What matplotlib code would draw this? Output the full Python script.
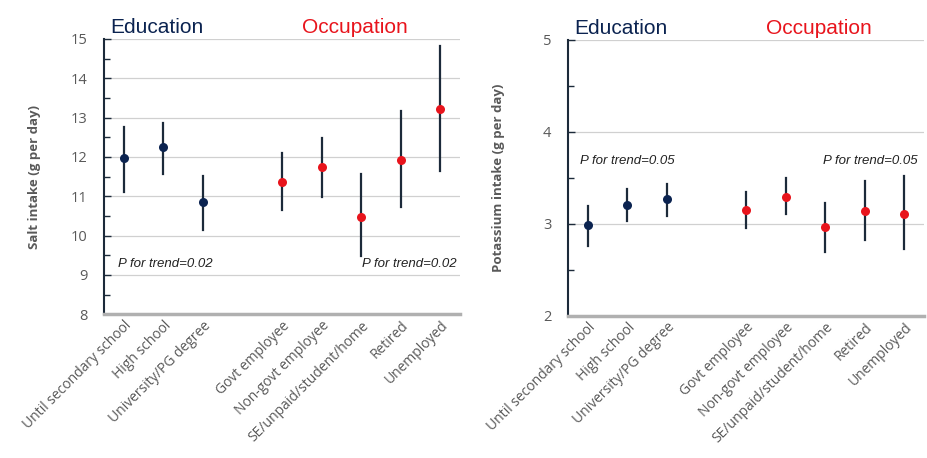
import matplotlib

matplotlib.use("Agg")
import matplotlib.pyplot as plt
from matplotlib.ticker import MultipleLocator

categories = [
    "Until secondary school",
    "High school",
    "University/PG degree",
    "Govt employee",
    "Non-govt employee",
    "SE/unpaid/student/home",
    "Retired",
    "Unemployed",
]
positions = [0, 1, 2, 4, 5, 6, 7, 8]
groups = ["edu", "edu", "edu", "occ", "occ", "occ", "occ", "occ"]

salt_mean = [11.96, 12.25, 10.85, 11.37, 11.75, 10.48, 11.92, 13.22]
salt_low = [11.12, 11.56, 10.15, 10.66, 10.98, 9.49, 10.73, 11.65]
salt_high = [12.77, 12.87, 11.51, 12.09, 12.49, 11.56, 13.17, 14.82]

pot_mean = [2.99, 3.20, 3.27, 3.15, 3.29, 2.96, 3.14, 3.11]
pot_low = [2.76, 3.03, 3.08, 2.95, 3.10, 2.69, 2.82, 2.72]
pot_high = [3.19, 3.38, 3.43, 3.34, 3.50, 3.23, 3.46, 3.52]

NAVY = "#0b2350"
RED = "#e8141c"
GREY_TXT = "#595959"
font = ["Liberation Sans", "DejaVu Sans"]
tick_font = ["Open Sans", "DejaVu Sans"]

fig = plt.figure(figsize=(9.28, 4.58), dpi=100)


def draw_panel(rect, mean, low, high, ylim, ylabel, ylabelpad, ptext, pt_pos):
    ax = fig.add_axes(rect)
    for x, m, lo, hi, g in zip(positions, mean, low, high, groups):
        ax.plot([x, x], [lo, hi], color="#1c2a3a", lw=1.6, zorder=2)
        ax.plot(x, m, "o", ms=6.5, color=NAVY if g == "edu" else RED,
                mec="none", zorder=3)
    ax.set_xlim(-0.5, 8.5)
    ax.set_ylim(*ylim)
    ax.yaxis.set_major_locator(MultipleLocator(1))
    ax.yaxis.set_minor_locator(MultipleLocator(0.5))
    ax.grid(axis="y", which="major", color="#d0d0d0", lw=0.9, zorder=0)
    for s in ["top", "right"]:
        ax.spines[s].set_visible(False)
    ax.spines["left"].set_color("#1c2a3a")
    ax.spines["left"].set_linewidth(1.5)
    ax.spines["bottom"].set_color("#b0b0b0")
    ax.spines["bottom"].set_linewidth(2.5)
    ax.tick_params(axis="y", which="both", direction="in", colors="#1c2a3a",
                   labelcolor=GREY_TXT, labelsize=10.5)
    ax.tick_params(axis="y", which="major", length=5, width=1, pad=12)
    ax.tick_params(axis="y", which="minor", length=4, width=1)
    ax.tick_params(axis="x", length=0, pad=3)
    ax.set_xticks(positions)
    ax.set_xticklabels(categories, rotation=45, ha="right",
                       rotation_mode="anchor", color=GREY_TXT, fontsize=10,
                       family=tick_font)
    ax.set_ylabel(ylabel, color=GREY_TXT, fontsize=9.5, fontweight="bold",
                  labelpad=ylabelpad, family=tick_font)
    for label in ax.get_yticklabels():
        label.set_family(tick_font)
    ax.text(0.017, 1.02, "Education", transform=ax.transAxes, color=NAVY,
            fontsize=15, family=font, va="baseline")
    ax.text(0.556, 1.02, "Occupation", transform=ax.transAxes, color=RED,
            fontsize=15, family=font, va="baseline")
    for xp, yp in pt_pos:
        ax.text(xp, yp, ptext, fontsize=9.5, style="italic", color="#222222",
                family=font, va="center")
    return ax


draw_panel([0.112, 0.314, 0.384, 0.601], salt_mean, salt_low, salt_high,
           (8, 15), "Salt intake (g per day)", 21, "P for trend=0.02",
           [(-0.15, 9.27), (6.03, 9.27)])
draw_panel([0.612, 0.311, 0.384, 0.602], pot_mean, pot_low, pot_high,
           (2, 5), "Potassium intake (g per day)", 27, "P for trend=0.05",
           [(-0.19, 3.68), (5.94, 3.68)])

fig.savefig("out.png", dpi=100)
plt.close(fig)
